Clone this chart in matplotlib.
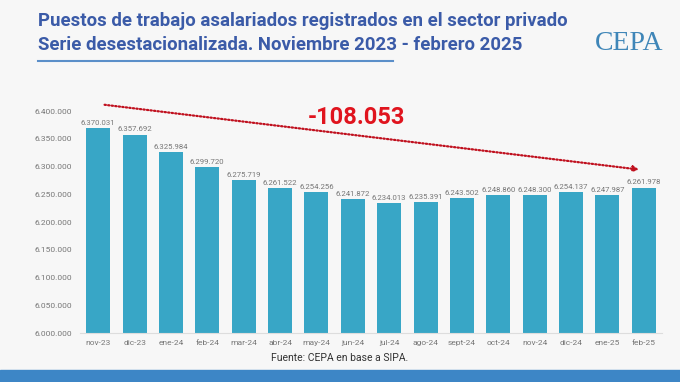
import matplotlib.pyplot as plt
from matplotlib.ticker import FuncFormatter

# data
meses = ['nov-23', 'dic-23', 'ene-24', 'feb-24', 'mar-24', 'abr-24', 'may-24', 'jun-24',
         'jul-24', 'ago-24', 'sept-24', 'oct-24', 'nov-24', 'dic-24', 'ene-25', 'feb-25']
puestos = [6370031, 6357692, 6325984, 6299720, 6275719, 6261522, 6254256, 6241872,
           6234013, 6235391, 6243502, 6248860, 6248300, 6254137, 6247987, 6261978]
variacion = '-108.053'

bg = '#f7f7f7'
bar_color = '#38a6c6'
title_color = '#3b5ba8'

def miles(v, pos=None):
    return f'{int(round(v)):,}'.replace(',', '.')

plt.rcParams['font.family'] = ['Roboto', 'DejaVu Sans']

fig = plt.figure(figsize=(6.8, 3.82), dpi=100, facecolor=bg)
ax = fig.add_axes([80/680, 1 - 333/382, 582/680, 233/382], facecolor=bg)

x = range(len(meses))
ax.bar(x, puestos, width=0.66, color=bar_color, zorder=2)
# value labels over each bar
for i, v in enumerate(puestos):
    ax.text(i, v + 4000, miles(v), ha='center', va='bottom', fontsize=5.6, color='#777777')

ax.set_xlim(-0.5, len(meses) - 0.5)
ax.set_ylim(6000000, 6420000)
ax.set_yticks(range(6000000, 6400001, 50000))
ax.yaxis.set_major_formatter(FuncFormatter(miles))
ax.set_xticks(list(x))
ax.set_xticklabels(meses)
ax.tick_params(axis='both', length=0, labelsize=6, colors='#777777')
ax.tick_params(axis='x', pad=5)
ax.tick_params(axis='y', pad=6)
for s in ['top', 'right', 'left']:
    ax.spines[s].set_visible(False)
ax.spines['bottom'].set_color('#dddddd')

# dotted trend arrow
ax.annotate('', xy=(14.95, 6294000), xytext=(0.1, 6412000),
            arrowprops=dict(arrowstyle='-|>', color='#c0101e', lw=1.6,
                            linestyle=(0, (0.6, 1.0)), mutation_scale=8),
            annotation_clip=False)
ax.text(7.1, 6389000, variacion, ha='center', va='center', fontsize=17,
        fontweight='bold', color='#e0141e')

# title
fig.text(38/680, 1 - 21/382, 'Puestos de trabajo asalariados registrados en el sector privado',
         fontsize=13.4, fontweight='bold', color=title_color, va='center')
fig.text(38/680, 1 - 45/382, 'Serie desestacionalizada. Noviembre 2023 - febrero 2025',
         fontsize=13.4, fontweight='bold', color=title_color, va='center')
fig.add_artist(plt.Line2D([38/680, 393/680], [1 - 61/382, 1 - 61/382],
                          color='#5b8fc9', lw=1.5))
fig.text(629/680, 1 - 43/382, 'CEPA', fontsize=20, family='Liberation Serif',
         color='#3f86b8', ha='center', va='center')

fig.text(340/680, 1 - 358/382, 'Fuente: CEPA en base a SIPA.', fontsize=7.5,
         color='#333333', ha='center', va='center')
fig.patches.append(plt.Rectangle((0, 0), 1, 12/382, transform=fig.transFigure,
                                 color='#3d86c6', zorder=0))

fig.savefig('out.png', dpi=100, facecolor=bg)
